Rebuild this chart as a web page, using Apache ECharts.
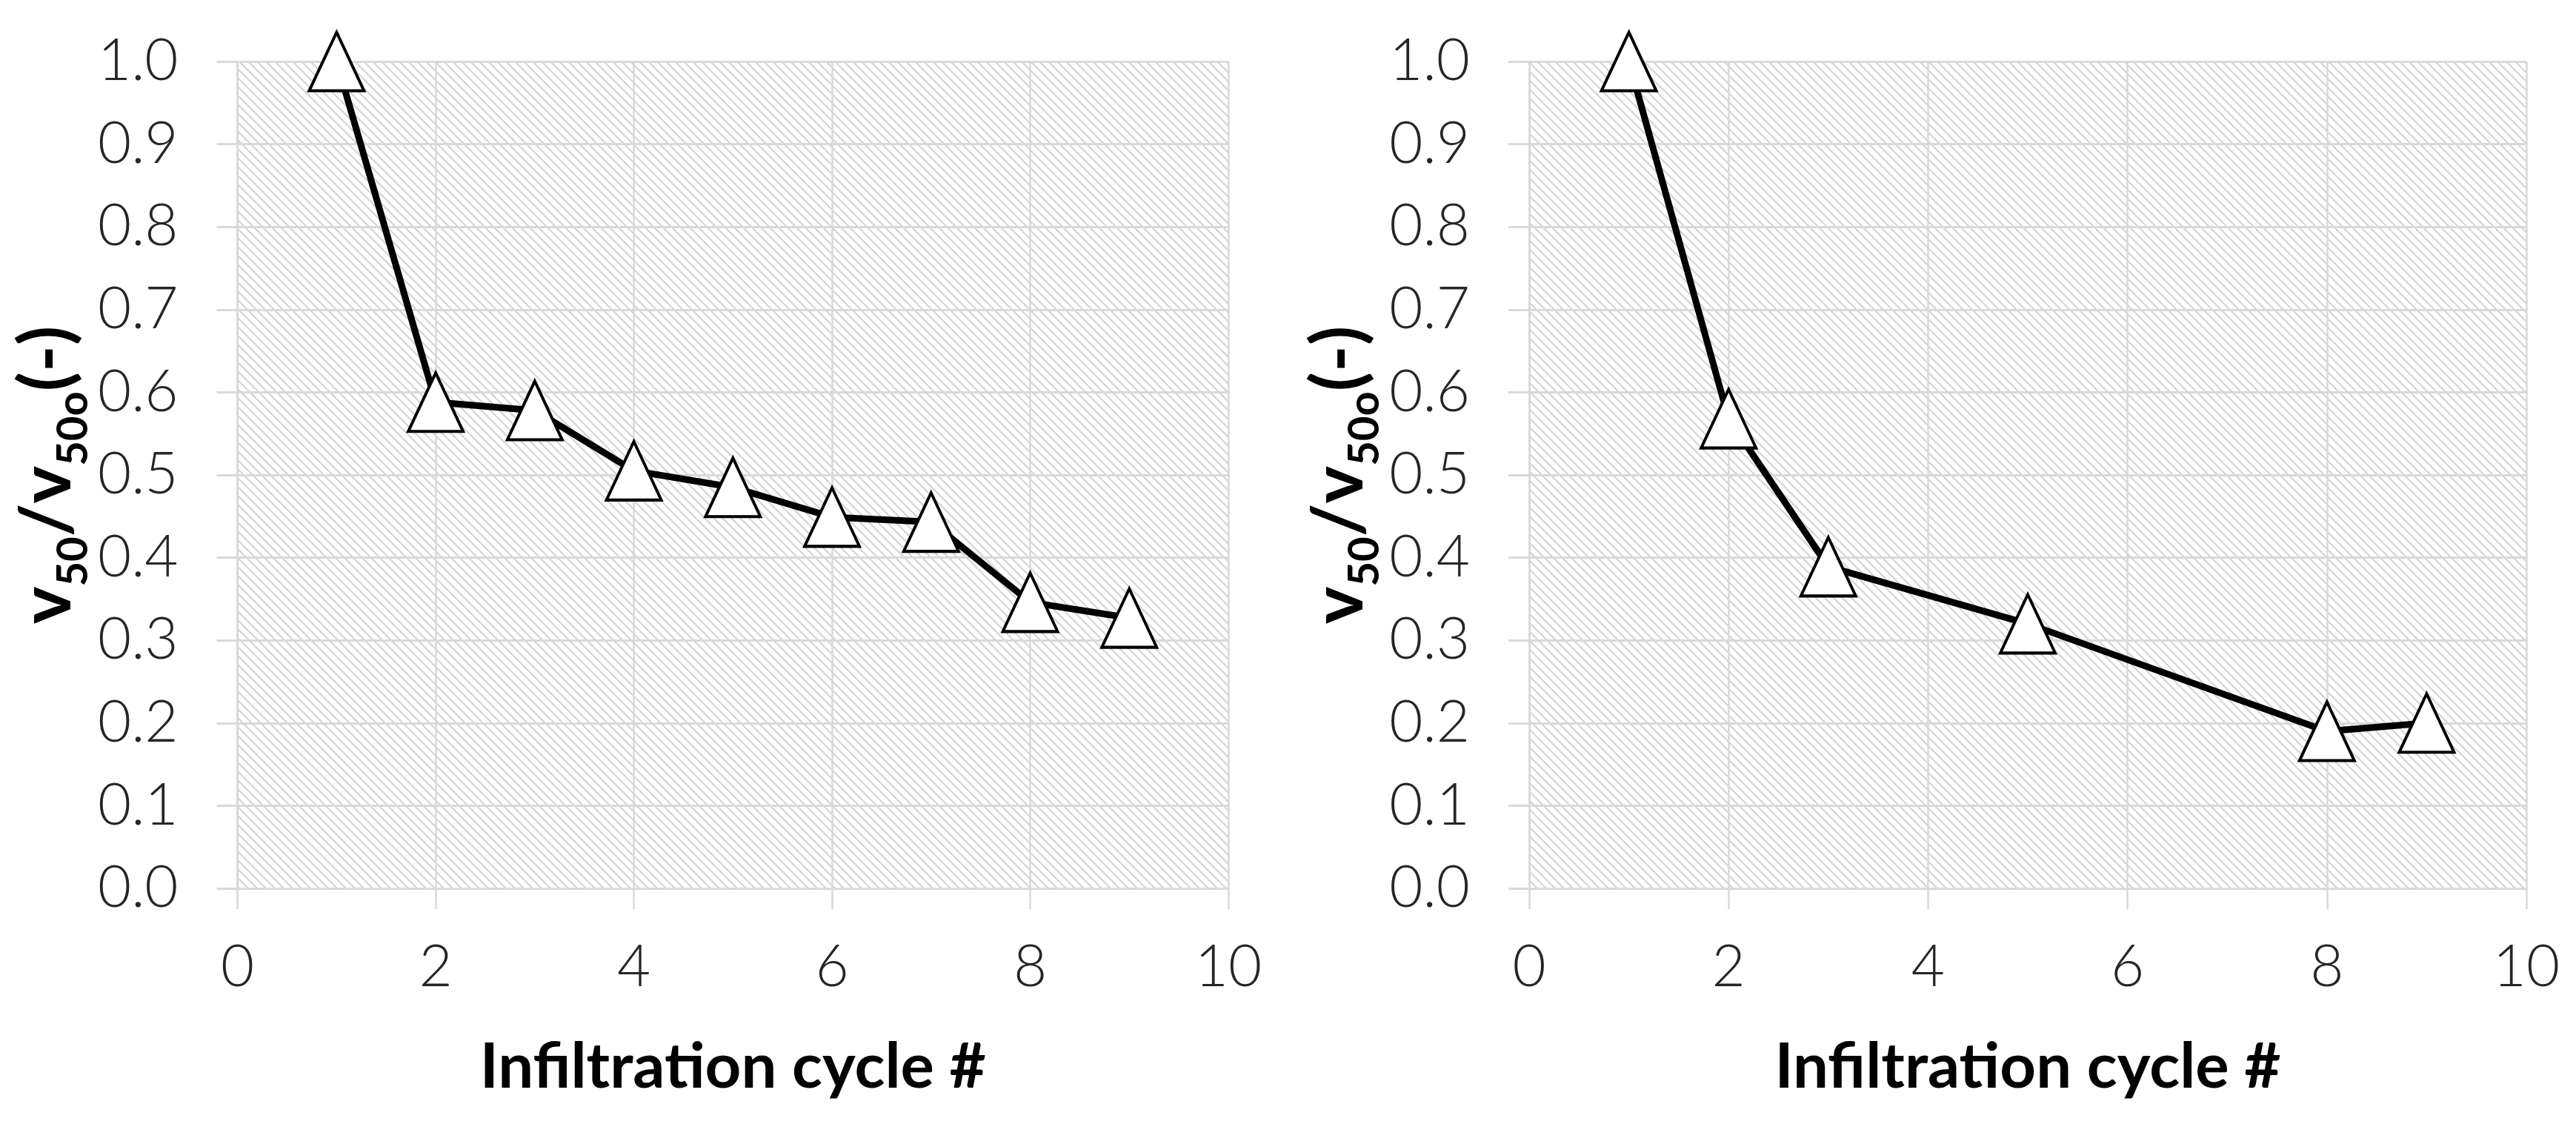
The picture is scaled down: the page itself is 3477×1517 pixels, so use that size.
<!DOCTYPE html>
<html><head><meta charset="utf-8">
<script src="https://cdn.jsdelivr.net/npm/echarts@6/dist/echarts.min.js"></script>
<style>html,body{margin:0;padding:0;background:#fff}#c{width:3477px;height:1517px}</style>
</head><body><div id="c"></div>
<script>
// ---- data ----
const cyclesA = [1, 2, 3, 4, 5, 6, 7, 8, 9];
const ratioA  = [1.0, 0.588, 0.578, 0.505, 0.485, 0.449, 0.443, 0.346, 0.327];
const cyclesB = [1, 2, 3, 5, 8, 9];
const ratioB  = [1.0, 0.568, 0.389, 0.320, 0.190, 0.200];
const xTickLabels = ['0', '2', '4', '6', '8', '10'];
const yTickLabels = ['0.0','0.1','0.2','0.3','0.4','0.5','0.6','0.7','0.8','0.9','1.0'];
const xTitle = 'Infiltration cycle #';
const yTitle = '{m|v}{s|50}{m|/v}{s|50o}{m|(-)}';

function hatch() {
  const s = 12, c = document.createElement('canvas');
  c.width = s; c.height = s;
  const g = c.getContext('2d');
  g.fillStyle = '#ffffff'; g.fillRect(0, 0, s, s);
  g.strokeStyle = '#d4d4d4'; g.lineWidth = 2.2;
  g.beginPath();
  g.moveTo(-2, -2); g.lineTo(s + 2, s + 2);
  g.moveTo(-2, s - 2); g.lineTo(2, s + 2);
  g.moveTo(s - 2, -2); g.lineTo(s + 2, 2);
  g.stroke();
  return c;
}
const pat = { image: hatch(), repeat: 'repeat' };
const gridCol = '#d9d9d9';

function pairs(xs, ys) { return xs.map((x, i) => [x, ys[i]]); }

function xAxis(idx) {
  return {
    gridIndex: idx, type: 'value', min: 0, max: 10, interval: 2,
    name: xTitle, nameLocation: 'middle', nameGap: 199,
    nameTextStyle: { fontFamily: 'Lato', fontWeight: 'bold', fontSize: 85, lineHeight: 85, color: '#000' },
    axisLine: { show: true, lineStyle: { color: gridCol, width: 3 } },
    axisTick: { show: true, length: 28, lineStyle: { color: gridCol, width: 2.5 } },
    splitLine: { show: true, lineStyle: { color: gridCol, width: 2.5 } },
    axisLabel: {
      margin: 68, fontFamily: 'Lato', fontWeight: 300, fontSize: 78, lineHeight: 78, color: '#262626',
      formatter: v => xTickLabels[Math.round(v / 2)]
    }
  };
}
function yAxis(idx) {
  return {
    gridIndex: idx, type: 'value', min: 0, max: 1, interval: 0.1,
    name: yTitle, nameLocation: 'middle', nameGap: 203, nameRotate: 90,
    nameTextStyle: {
      color: '#000',
      rich: {
        m: { fontFamily: 'Lato', fontWeight: 'bold', fontSize: 96, lineHeight: 96, color: '#000' },
        s: { fontFamily: 'Lato', fontWeight: 'bold', fontSize: 58, lineHeight: 58, padding: [69, 0, 0, 0], color: '#000' }
      }
    },
    axisLine: { show: true, lineStyle: { color: gridCol, width: 3 } },
    axisTick: { show: true, length: 28, lineStyle: { color: gridCol, width: 3 } },
    splitLine: { show: true, lineStyle: { color: gridCol, width: 3 } },
    axisLabel: {
      margin: 80, fontFamily: 'Lato', fontWeight: 300, fontSize: 78, color: '#262626',
      formatter: v => yTickLabels[Math.round(v * 10)]
    }
  };
}
function series(idx, xs, ys) {
  return {
    type: 'line', xAxisIndex: idx, yAxisIndex: idx,
    data: pairs(xs, ys),
    lineStyle: { color: '#000', width: 9 },
    symbol: 'triangle', symbolSize: [74, 79],
    itemStyle: { color: '#fff', borderColor: '#000', borderWidth: 4 },
    z: 5, animation: false
  };
}

const chart = echarts.init(document.getElementById('c'), null, { renderer: 'canvas' });
chart.setOption({
  animation: false,
  backgroundColor: '#fff',
  grid: [
    { left: 316, top: 83, width: 1342, height: 1116, show: true, backgroundColor: pat, borderWidth: 0 },
    { left: 2064, top: 83, width: 1346, height: 1116, show: true, backgroundColor: pat, borderWidth: 0 }
  ],
  xAxis: [xAxis(0), xAxis(1)],
  yAxis: [yAxis(0), yAxis(1)],
  series: [series(0, cyclesA, ratioA), series(1, cyclesB, ratioB)]
});
</script></body></html>
